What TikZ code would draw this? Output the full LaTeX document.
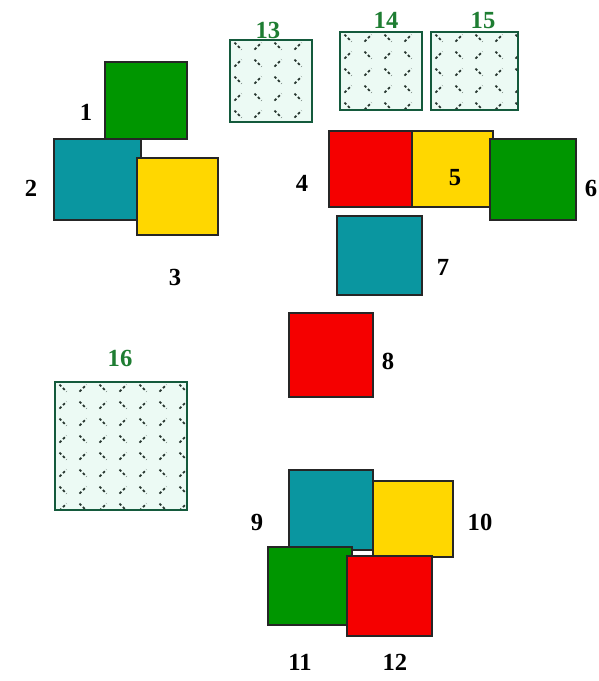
\documentclass[tikz,border=0pt]{standalone}
\usepackage{fontspec}
\setmainfont{Liberation Serif}

\definecolor{sqgreen}{RGB}{0,150,0}
\definecolor{sqteal}{RGB}{10,150,160}
\definecolor{sqyellow}{RGB}{255,215,0}
\definecolor{sqred}{RGB}{245,0,0}
\definecolor{mint}{RGB}{236,250,244}
\definecolor{hatchline}{RGB}{20,90,60}
\definecolor{hatchmark}{RGB}{40,55,48}
\definecolor{numgreen}{RGB}{30,125,50}

\tikzset{
  sq/.style={draw=black!85,line width=0.9pt},
  num/.style={font=\fontsize{14}{16}\selectfont\bfseries,inner sep=1pt},
  gnum/.style={num,text=numgreen},
  tick/.style={hatchmark,line width=1pt,dash pattern=on 1.5pt off 1.3pt}
}

% hatched square: x1,y1,x2,y2
\newcommand\hatchsq[4]{%
  \fill[mint] (#1,#2) rectangle (#3,#4);
  \begin{scope}
    \clip (#1,#2) rectangle (#3,#4);
    \foreach \u in {0,...,7}{
      \foreach \v in {0,...,8}{
        \pgfmathsetmacro\sg{ifthenelse(mod(\u+\v,2)==0,1,-1)}
        \draw[tick] (#1+8+\u*20,#2+6+\v*17) ++(-3.5,-3.5*\sg) -- ++(7,7*\sg);
      }
    }
  \end{scope}
  \draw[hatchline,line width=0.9pt] (#1,#2) rectangle (#3,#4);
}

\begin{document}
\begin{tikzpicture}[x=0.02cm,y=-0.02cm]

\useasboundingbox (0,0) rectangle (599,681);

% group 1-3
\filldraw[sq,fill=sqgreen] (105,62) rectangle (187,139);
\filldraw[sq,fill=sqteal] (54,139) rectangle (141,220);
\filldraw[sq,fill=sqyellow] (137,158) rectangle (218,235);

\node[num] (n1) at (86,112) {1};
\node[num] (n2) at (31,188) {2};
\node[num] (n3) at (175,277) {3};

% hatched 13-16
\hatchsq{230}{40}{312}{122}
\hatchsq{340}{32}{422}{110}
\hatchsq{431}{32}{518}{110}
\hatchsq{55}{382}{187}{510}

\node[gnum] (n13) at (268,30) {13};
\node[gnum] (n14) at (386,20) {14};
\node[gnum] (n15) at (483,20) {15};
\node[gnum] (n16) at (120,358) {16};

% row 4-6
\filldraw[sq,fill=sqred] (329,131) rectangle (412,207);
\filldraw[sq,fill=sqyellow] (412,131) rectangle (493,207);
\filldraw[sq,fill=sqgreen] (490,139) rectangle (576,220);

\node[num] (n4) at (302,183) {4};
\node[num] (n5) at (455,178) {5};
\node[num] (n6) at (591,188) {6};

% 7 and 8
\filldraw[sq,fill=sqteal] (337,216) rectangle (422,295);
\filldraw[sq,fill=sqred] (289,313) rectangle (373,397);

\node[num] (n7) at (443,267) {7};
\node[num] (n8) at (388,361) {8};

% group 9-12
\filldraw[sq,fill=sqteal] (289,470) rectangle (373,550);
\filldraw[sq,fill=sqyellow] (373,481) rectangle (453,557);
\filldraw[sq,fill=sqgreen] (268,547) rectangle (352,625);
\filldraw[sq,fill=sqred] (347,556) rectangle (432,636);

\node[num] (n9) at (257,522) {9};
\node[num] (n10) at (480,522) {10};
\node[num] (n11) at (300,662) {11};
\node[num] (n12) at (395,662) {12};

\end{tikzpicture}
\end{document}
